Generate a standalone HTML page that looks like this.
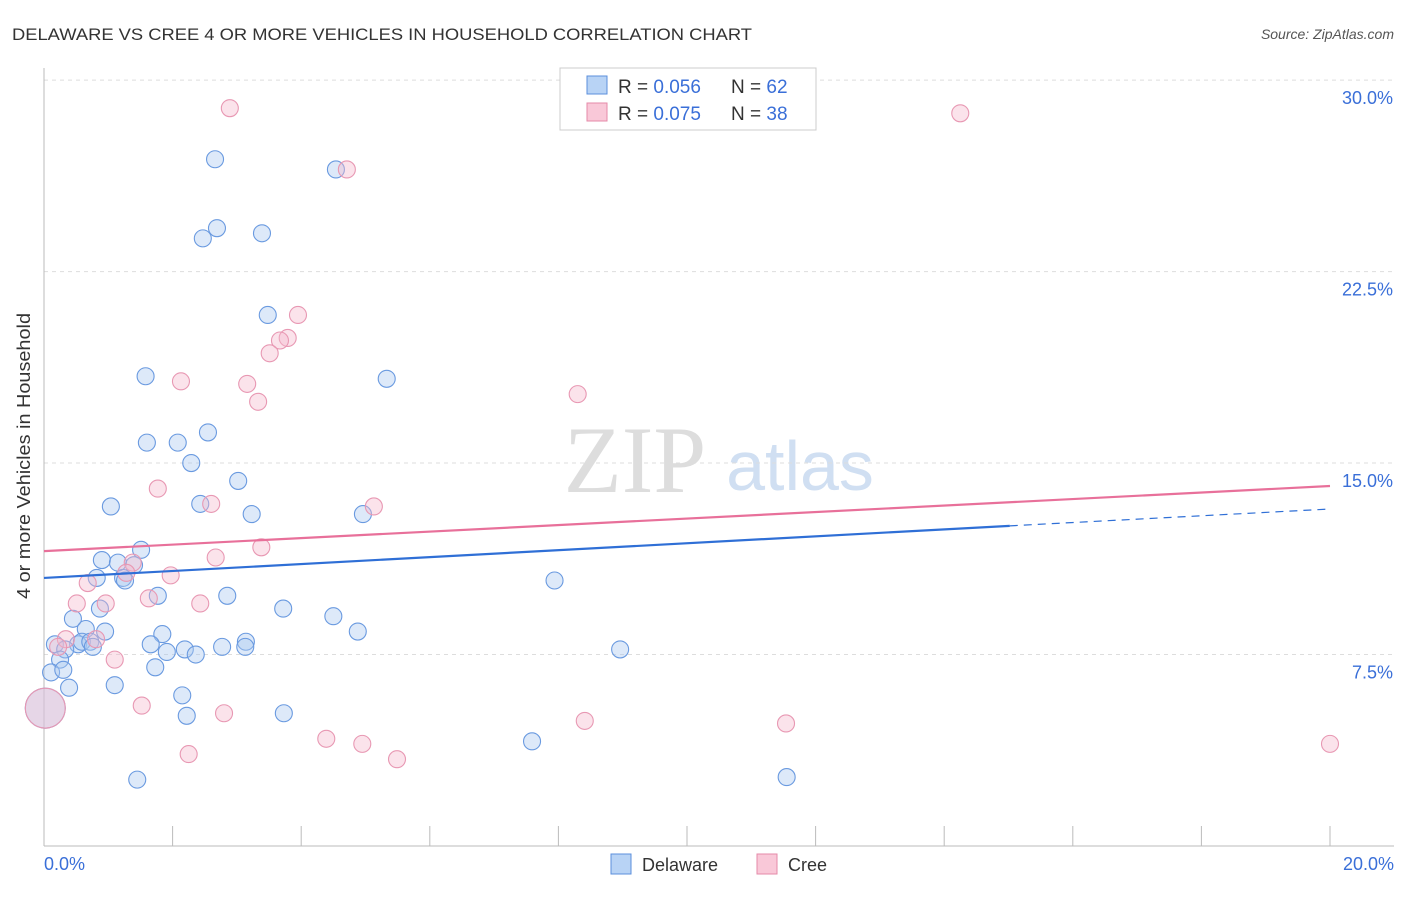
<!DOCTYPE html>
<html><head><meta charset="utf-8"><style>
body{margin:0;background:#fff;font-family:"Liberation Sans",sans-serif;}
</style></head><body>
<svg width="1406" height="892" xmlns="http://www.w3.org/2000/svg">
<text x="12" y="40" font-size="17" fill="#333" textLength="740" lengthAdjust="spacingAndGlyphs">DELAWARE VS CREE 4 OR MORE VEHICLES IN HOUSEHOLD CORRELATION CHART</text>
<text x="1394" y="39" font-size="14" fill="#555" font-style="italic" text-anchor="end">Source: ZipAtlas.com</text>
<text x="635" y="492" font-size="95" fill="#ddd" font-family="Liberation Serif,serif" text-anchor="middle">ZIP</text>
<text x="800" y="490" font-size="70" fill="#d0dff2" text-anchor="middle">atlas</text>
<g id="grid"></g>
<line x1="44" y1="68" x2="44" y2="846" stroke="#bbb"/>
<line x1="44" y1="846" x2="1394" y2="846" stroke="#bbb"/>
<text x="30" y="456" font-size="18" fill="#333" text-anchor="middle" textLength="286" lengthAdjust="spacingAndGlyphs" transform="rotate(-90 30 456)">4 or more Vehicles in Household</text>
<text x="44" y="870" font-size="18" fill="#3a6fd8">0.0%</text>
<text x="1394" y="870" font-size="18" fill="#3a6fd8" text-anchor="end">20.0%</text>
<g id="pts"></g>
<g id="lines"></g>
<g>
<rect x="560" y="68" width="256" height="62" fill="#fff" stroke="#ccc"/>
<rect x="587" y="76" width="20" height="18" fill="#b8d3f5" stroke="#5b8fdc"/>
<rect x="587" y="103" width="20" height="18" fill="#f9c8d8" stroke="#e58aa8"/>
<text x="618" y="93" font-size="19" fill="#333">R = <tspan fill="#3a6fd8">0.056</tspan></text>
<text x="731" y="93" font-size="19" fill="#333">N = <tspan fill="#3a6fd8">62</tspan></text>
<text x="618" y="120" font-size="19" fill="#333">R = <tspan fill="#3a6fd8">0.075</tspan></text>
<text x="731" y="120" font-size="19" fill="#333">N = <tspan fill="#3a6fd8">38</tspan></text>
</g>
<g>
<rect x="611" y="854" width="20" height="20" fill="#b8d3f5" stroke="#5b8fdc"/>
<text x="642" y="871" font-size="18" fill="#333">Delaware</text>
<rect x="757" y="854" width="20" height="20" fill="#f9c8d8" stroke="#e58aa8"/>
<text x="788" y="871" font-size="18" fill="#333">Cree</text>
</g>
</svg>
<script>
const yTicks=[7.5,15,22.5,30];
const xTickVals=[0,2,4,6,8,10,12,14,16,18,20];
const delX=[2.66,4.54,2.69,2.47,3.39,3.48,1.58,5.33,1.60,2.08,2.55,2.29,3.02,1.04,2.43,3.23,4.96,1.51,0.90,1.15,1.40,0.82,1.23,1.26,1.77,2.85,0.87,3.72,4.50,0.45,0.65,0.95,1.84,4.88,0.17,0.53,0.59,0.72,0.76,1.66,3.14,2.77,3.13,0.33,1.91,2.19,2.36,0.25,8.96,7.94,0.11,0.30,1.73,0.39,1.10,2.15,2.22,3.73,7.59,1.45,11.55,0.02];
const delY=[26.9,26.5,24.2,23.8,24.0,20.8,18.4,18.3,15.8,15.8,16.2,15.0,14.3,13.3,13.4,13.0,13.0,11.6,11.2,11.1,11.0,10.5,10.5,10.4,9.8,9.8,9.3,9.3,9.0,8.9,8.5,8.4,8.3,8.4,7.9,7.9,8.0,8.0,7.8,7.9,8.0,7.8,7.8,7.7,7.6,7.7,7.5,7.3,7.7,10.4,6.8,6.9,7.0,6.2,6.3,5.9,5.1,5.2,4.1,2.6,2.7,5.4];
const creeX=[2.89,14.25,4.71,3.95,3.79,3.67,3.51,2.13,3.16,3.33,8.30,1.77,2.60,5.13,3.38,2.67,1.38,1.28,1.97,0.68,0.51,0.96,1.63,2.43,0.34,0.81,0.22,1.10,1.52,2.80,8.41,11.54,4.39,4.95,20.0,2.25,5.49,0.02];
const creeY=[28.9,28.7,26.5,20.8,19.9,19.8,19.3,18.2,18.1,17.4,17.7,14.0,13.4,13.3,11.7,11.3,11.1,10.7,10.6,10.3,9.5,9.5,9.7,9.5,8.1,8.1,7.8,7.3,5.5,5.2,4.9,4.8,4.2,4.0,4.0,3.6,3.4,5.4];
const xs=v=>44+v*64.3, ys=v=>846-v*25.53;
const NS='http://www.w3.org/2000/svg';
const grid=document.getElementById('grid');
yTicks.forEach(t=>{
 const l=document.createElementNS(NS,'line');
 l.setAttribute('x1',44);l.setAttribute('x2',1394);l.setAttribute('y1',ys(t));l.setAttribute('y2',ys(t));
 l.setAttribute('stroke','#ddd');l.setAttribute('stroke-dasharray','4,4');
 
 
 grid.appendChild(l);
 const tx=document.createElementNS(NS,'text');
 tx.setAttribute('x',1393);tx.setAttribute('y',ys(t)+24);tx.setAttribute('text-anchor','end');
 tx.setAttribute('font-size','18');tx.setAttribute('fill','#3a6fd8');tx.textContent=t.toFixed(1)+'%';
 
 
 grid.appendChild(tx);
});
xTickVals.forEach(t=>{
 const l=document.createElementNS(NS,'line');
 l.setAttribute('x1',xs(t));l.setAttribute('x2',xs(t));l.setAttribute('y1',826);l.setAttribute('y2',846);
 l.setAttribute('stroke','#bbb');
 
 
 grid.appendChild(l);
});
const pts=document.getElementById('pts');
function dot(x,y,r,f,s,name){
 const c=document.createElementNS(NS,'circle');
 c.setAttribute('cx',xs(x));c.setAttribute('cy',ys(y));c.setAttribute('r',r);
 c.setAttribute('fill',f);c.setAttribute('stroke',s);c.setAttribute('stroke-width','1.1');
 
 
 pts.appendChild(c);
}
delX.forEach((x,i)=>dot(x,delY[i],i==delX.length-1?20:8.5,'rgba(170,200,240,0.4)','#6a9ae0','delaware-point'));
creeX.forEach((x,i)=>dot(x,creeY[i],i==creeX.length-1?20:8.5,'rgba(245,185,205,0.4)','#e898b3','cree-point'));
const lines=document.getElementById('lines');
function ln(x1,y1,x2,y2,c,dash,name){
 const l=document.createElementNS(NS,'line');
 l.setAttribute('x1',xs(x1));l.setAttribute('y1',ys(y1));l.setAttribute('x2',xs(x2));l.setAttribute('y2',ys(y2));
 l.setAttribute('stroke',c);l.setAttribute('stroke-width',dash?1.2:2.2);
 if(dash)l.setAttribute('stroke-dasharray','8,6');
 
 
 lines.appendChild(l);
}
ln(0,10.50,15.02,12.54,'#2f6fd6',false,'delaware-trend');
ln(15.02,12.54,20,13.20,'#2f6fd6',true,'delaware-trend-extension');
ln(0,11.55,20,14.10,'#e8709a',false,'cree-trend');
</script>
</body></html>
